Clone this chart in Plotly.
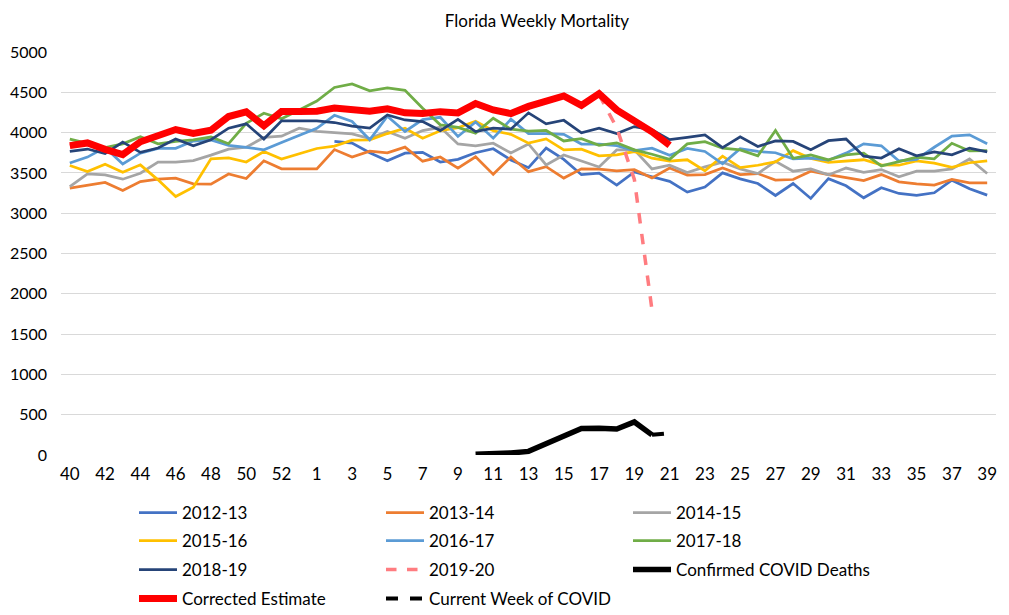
import plotly.graph_objects as go

weeks = ["40", "41", "42", "43", "44", "45", "46", "47", "48", "49", "50", "51", "52", "53",
         "1", "2", "3", "4", "5", "6", "7", "8", "9", "10", "11", "12", "13", "14", "15", "16",
         "17", "18", "19", "20", "21", "22", "23", "24", "25", "26", "27", "28", "29", "30",
         "31", "32", "33", "34", "35", "36", "37", "38", "39"]
tick_weeks = weeks[::2]

s2012_13 = [None] * 15 + [3890, 3870, 3750, 3650, 3745, 3755, 3635, 3668, 3750, 3800,
                          3660, 3565, 3808, 3668, 3478, 3498, 3348, 3512, 3452, 3395,
                          3262, 3325, 3500, 3426, 3368, 3220, 3368, 3183, 3428, 3340,
                          3191, 3315, 3245, 3220, 3253, 3410, 3303, 3224]
s2013_14 = [3310, 3343, 3381, 3282, 3393, 3422, 3434, 3364, 3360, 3486,
            3430, 3650, 3550, 3550, 3550, 3790, 3697, 3770, 3750, 3820,
            3645, 3697, 3560, 3700, 3482, 3697, 3515, 3577, 3436, 3550,
            3548, 3525, 3540, 3436, 3560, 3473, 3479, 3562, 3479, 3492,
            3410, 3418, 3521, 3479, 3445, 3405, 3479, 3389, 3364, 3348,
            3418, 3377, 3377]
s2014_15 = [3331, 3488, 3476, 3422, 3496, 3633, 3633, 3653, 3720, 3795,
            3818, 3940, 3955, 4055, 4015, 4000, 3985, 3925, 4013, 3930,
            4025, 4066, 3860, 3835, 3868, 3747, 3859, 3598, 3722, 3648,
            3573, 3785, 3785, 3549, 3595, 3505, 3574, 3632, 3549, 3492,
            3644, 3521, 3549, 3475, 3560, 3508, 3541, 3451, 3521, 3521,
            3549, 3673, 3492]
s2015_16 = [3591, 3517, 3608, 3509, 3600, 3414, 3207, 3323, 3674, 3686,
            3635, 3766, 3672, 3737, 3803, 3832, 3906, 3910, 3988, 4054,
            3931, 4023, 4060, 4140, 4023, 3978, 3869, 3922, 3785, 3794,
            3711, 3724, 3765, 3682, 3645, 3663, 3525, 3708, 3566, 3595,
            3636, 3776, 3678, 3632, 3646, 3663, 3600, 3595, 3648, 3622,
            3570, 3626, 3650]
s2016_17 = [3622, 3696, 3815, 3610, 3745, 3805, 3805, 3895, 3910, 3842,
            3818, 3786, 3876, 3962, 4054, 4215, 4138, 3911, 4203, 4014,
            4162, 4190, 3952, 4131, 3931, 4166, 3987, 3987, 3978, 3858,
            3858, 3838, 3776, 3807, 3718, 3803, 3766, 3613, 3801, 3766,
            3750, 3674, 3684, 3658, 3745, 3861, 3836, 3648, 3667, 3818,
            3956, 3972, 3861]
s2017_18 = [3920, 3870, 3815, 3860, 3950, 3860, 3890, 3910, 3945, 3862,
            4116, 4240, 4172, 4281, 4391, 4560, 4603, 4518, 4555, 4524,
            4302, 4096, 4065, 3993, 4178, 4042, 4018, 4026, 3896, 3925,
            3842, 3873, 3786, 3731, 3668, 3860, 3888, 3806, 3785, 3711,
            4025, 3682, 3723, 3661, 3723, 3744, 3587, 3641, 3694, 3674,
            3868, 3773, 3777]
s2018_19 = [3767, 3796, 3739, 3883, 3755, 3809, 3920, 3837, 3912, 4055,
            4109, 3920, 4146, 4146, 4146, 4125, 4080, 4055, 4219, 4157,
            4136, 4025, 4165, 4013, 4054, 4042, 4245, 4108, 4153, 3997,
            4055, 3987, 4075, 4034, 3912, 3940, 3972, 3814, 3947, 3828,
            3898, 3890, 3787, 3900, 3920, 3708, 3684, 3799, 3712, 3760,
            3724, 3808, 3762]
s2019_20 = [3838, 3872, 3792, 3727, 3886, 3971, 4038, 3989, 4029, 4199,
            4258, 4084, 4261, 4261, 4265, 4305, 4278, 4265, 4296, 4245,
            4236, 4260, 4244, 4360, 4281, 4236, 4325, 4389, 4455, 4337,
            4470, 4060, 3420, 1800]
corrected = [3838, 3872, 3792, 3727, 3886, 3971, 4038, 3989, 4029, 4199,
             4258, 4084, 4261, 4261, 4265, 4305, 4278, 4265, 4296, 4245,
             4236, 4260, 4244, 4360, 4281, 4236, 4325, 4389, 4455, 4337,
             4484, 4282, 4148, 4010, 3842]
covid_weeks = ["10", "11", "12", "13", "14", "15", "16", "17", "18", "19", "20"]
covid_deaths = [8, 12, 25, 45, 140, 245, 330, 332, 322, 410, 250]
current_weeks = ["20", "21"]
current_deaths = [250, 270]

FONT = "Lato"
fig = go.Figure()

def add(name, x, y, color, width, dash="solid", legend="legend"):
    fig.add_trace(go.Scatter(
        x=x, y=y, name=name, mode="lines",
        line=dict(color=color, width=width, dash=dash),
        legend=legend, hoverinfo="skip"))

add("2012-13", weeks, s2012_13, "#4472C4", 2.75)
add("2013-14", weeks, s2013_14, "#ED7D31", 2.75)
add("2014-15", weeks, s2014_15, "#A5A5A5", 2.75)
add("2015-16", weeks, s2015_16, "#FFC000", 2.75, legend="legend2")
add("2016-17", weeks, s2016_17, "#5B9BD5", 2.75, legend="legend2")
add("2017-18", weeks, s2017_18, "#70AD47", 2.75, legend="legend2")
add("2018-19", weeks, s2018_19, "#264478", 2.75, legend="legend3")
add("2019-20", weeks[:len(s2019_20)], s2019_20, "#FF7C80", 3.5, dash="dash", legend="legend3")
add("Confirmed COVID Deaths", covid_weeks, covid_deaths, "#000000", 5.5, legend="legend3")
add("Corrected Estimate", weeks[:len(corrected)], corrected, "#FF0000", 7, legend="legend4")
add("Current Week of COVID", current_weeks, current_deaths, "#000000", 4, dash="dash", legend="legend4")

# page has an 8px body margin; figure is sized/offset to compensate
OFF = 8
W, H = 1009 - OFF, 615 - OFF
L, R, T, B = 61 - OFF, 13, 52 - OFF, 160
ph = H - T - B
pw = W - L - R

def py(pix):
    return (H - B - (pix - OFF)) / ph

def px(pix):
    return ((pix - OFF) - L) / pw

leg_common = dict(orientation="h", xanchor="left", yanchor="middle",
                  entrywidth=194, entrywidthmode="pixels", itemwidth=38,
                  font=dict(family=FONT, size=17, color="#000000"),
                  bgcolor="rgba(0,0,0,0)", traceorder="normal")

fig.update_layout(
    width=W, height=H,
    margin=dict(l=L, r=R, t=T, b=B, autoexpand=False),
    paper_bgcolor="white", plot_bgcolor="white",
    font=dict(family=FONT, size=16, color="#000000"),
    title=dict(text="Florida Weekly Mortality", x=(537 - OFF) / W, xref="container", xanchor="center",
               y=1 - (21 - OFF) / H, yanchor="middle", font=dict(family=FONT, size=17, color="#000000")),
    legend=dict(x=px(134), y=py(513), **leg_common),
    legend2=dict(x=px(134), y=py(541), **leg_common),
    legend3=dict(x=px(134), y=py(570), **leg_common),
    legend4=dict(x=px(134), y=py(599), **leg_common),
    showlegend=True,
)
fig.update_xaxes(type="category", categoryorder="array", categoryarray=weeks,
                 range=[-0.5, len(weeks) - 0.5], automargin=False,
                 tickmode="array", tickvals=tick_weeks, ticktext=tick_weeks,
                 showgrid=False, showline=False, zeroline=False, ticks="",
                 tickfont=dict(family=FONT, size=17, color="#000000"),
                 ticklabelstandoff=7, tickangle=0)
fig.update_yaxes(range=[0, 5000], dtick=500, showgrid=True, gridcolor="#D9D9D9", gridwidth=1,
                 zeroline=False, showline=False, ticks="", automargin=False,
                 tickfont=dict(family=FONT, size=16, color="#000000"),
                 ticklabelstandoff=13)

fig.write_html("out.html")
